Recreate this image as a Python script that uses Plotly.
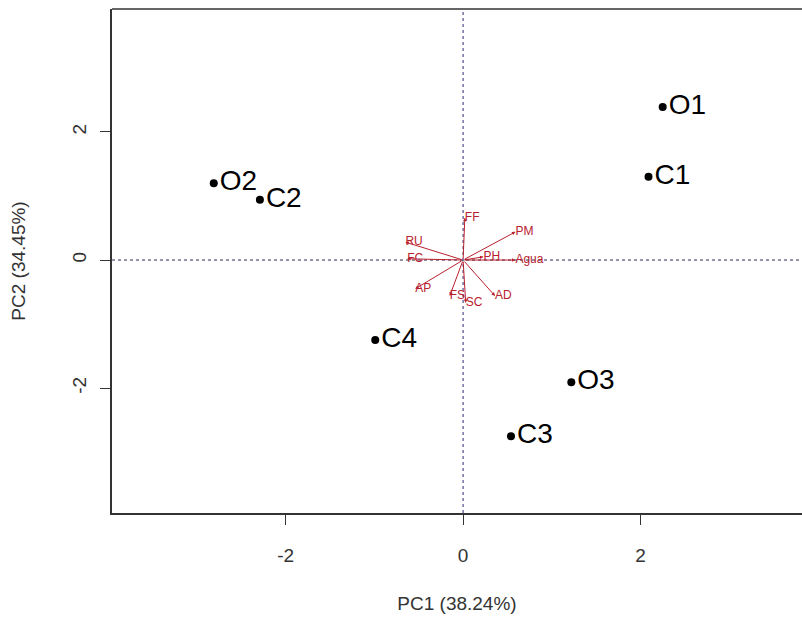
import plotly.graph_objects as go

# Sample scores
samples = ["O1", "C1", "O2", "C2", "C4", "O3", "C3"]
pc1 = [2.25, 2.09, -2.81, -2.29, -0.99, 1.22, 0.54]
pc2 = [2.39, 1.30, 1.20, 0.94, -1.25, -1.91, -2.75]

# Variable loadings (arrow tips)
variables = ["FF", "PM", "RU", "FC", "PH", "Agua", "AP", "FS", "SC", "AD"]
load1 = [0.02, 0.59, -0.65, -0.63, 0.23, 0.59, -0.54, -0.15, 0.03, 0.36]
load2 = [0.66, 0.44, 0.28, 0.02, 0.05, 0.00, -0.45, -0.56, -0.67, -0.56]

x_ticks = [-2, 0, 2]
x_ticktext = ["-2", "0", "2"]
y_ticks = [-2, 0, 2]
y_ticktext = ["-2", "0", "2"]
x_title = "PC1 (38.24%)"
y_title = "PC2 (34.45%)"

RED = "#B8202E"
FONT = "Liberation Sans, Arial, sans-serif"

fig = go.Figure()

fig.add_trace(go.Scatter(
    x=pc1, y=pc2, mode="markers+text", text=samples,
    textposition="middle right",
    marker=dict(color="black", size=8),
    textfont=dict(family=FONT, size=28, color="black"),
    showlegend=False, hoverinfo="skip"))

fig.add_trace(go.Scatter(
    x=load1, y=load2, mode="text", text=variables,
    textposition="middle right",
    textfont=dict(family=FONT, size=12, color=RED),
    showlegend=False, hoverinfo="skip"))

annotations = []
for vx, vy in zip(load1, load2):
    annotations.append(dict(
        x=vx, y=vy, ax=0, ay=0, xref="x", yref="y", axref="x", ayref="y",
        text="", showarrow=True, arrowhead=2, arrowsize=0.7, arrowwidth=1,
        arrowcolor=RED))

shapes = [
    dict(type="line", xref="x", yref="paper", x0=0, x1=0, y0=0, y1=1,
         line=dict(color="#2a2a70", width=1, dash="dot"), layer="below"),
    dict(type="line", xref="paper", yref="y", x0=0, x1=1, y0=0, y1=0,
         line=dict(color="#2a2a50", width=1, dash="dot"), layer="below"),
    dict(type="line", xref="paper", yref="paper", x0=0, x1=1, y0=1, y1=1,
         line=dict(color="#333333", width=1.5)),
]

fig.update_layout(
    width=802, height=619,
    margin=dict(l=112, r=0, t=9, b=106),
    plot_bgcolor="white", paper_bgcolor="white",
    font=dict(family=FONT, size=19, color="#333333"),
    annotations=annotations, shapes=shapes,
    xaxis=dict(range=[-3.957, 3.82], tickvals=x_ticks, ticktext=x_ticktext,
               ticks="outside", ticklen=10, tickcolor="#333333",
               ticklabelstandoff=14,
               showgrid=False, zeroline=False,
               showline=True, linecolor="#333333", linewidth=1.5,
               title=dict(text=x_title, standoff=32, font=dict(size=19)),
               tickfont=dict(size=19)),
    yaxis=dict(range=[-3.95, 3.92], tickvals=y_ticks, ticktext=y_ticktext,
               ticks="outside", ticklen=10, tickcolor="#333333",
               ticklabelstandoff=7,
               showgrid=False, zeroline=False,
               showline=True, linecolor="#333333", linewidth=1.5,
               tickangle=-90,
               title=dict(text=y_title, standoff=38, font=dict(size=19)),
               tickfont=dict(size=19)),
)

fig.write_html("out.html")
